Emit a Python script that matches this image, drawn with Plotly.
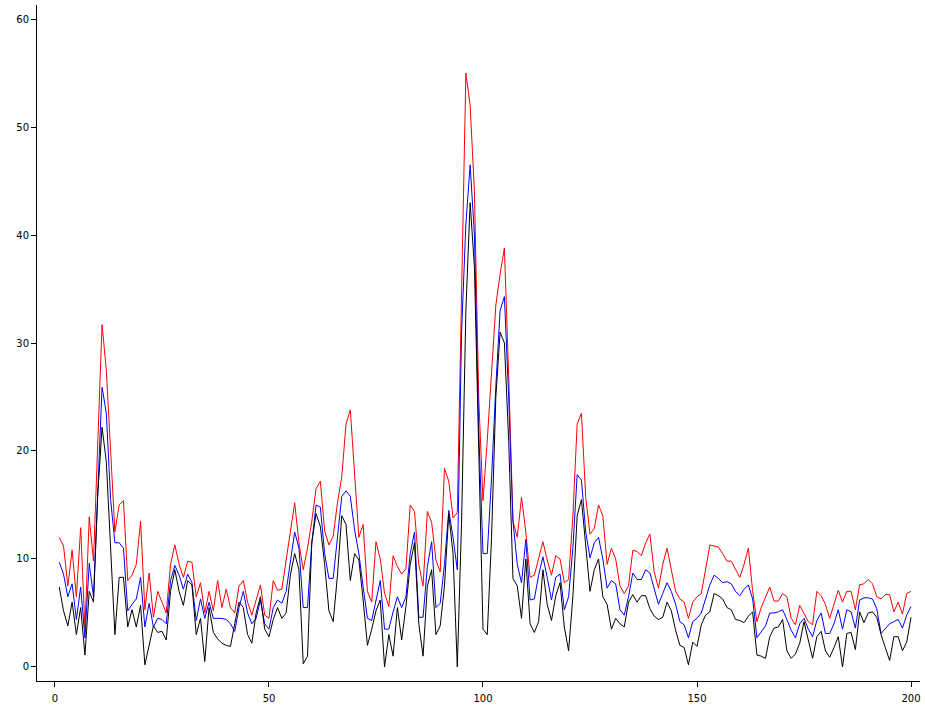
import plotly.graph_objects as go

x_values = list(range(1, 201))

red_values = [
    12.0, 11.2, 7.5, 10.8, 6.5, 12.9, 3.6, 13.9, 9.8, 21.0,
    31.7, 27.5, 19.8, 12.5, 15.0, 15.4, 8.0, 8.5, 9.5, 13.5,
    5.3, 8.7, 4.6, 7.0, 6.0, 5.0, 9.5, 11.3, 9.5, 8.3,
    9.8, 9.7, 6.5, 7.8, 5.0, 7.0, 5.2, 8.0, 5.5, 7.2,
    5.5, 5.0, 7.5, 8.0, 6.0, 4.8, 6.2, 7.6, 4.8, 4.5,
    8.0, 7.1, 7.2, 9.8, 12.5, 15.2, 11.5, 9.0, 11.0, 13.5,
    16.5, 17.2, 12.6, 11.3, 12.1, 15.2, 17.6, 22.5, 23.8, 17.5,
    12.0, 13.2, 7.0, 6.0, 11.6, 10.0, 6.8, 5.6, 10.3, 9.3,
    8.6, 9.1, 15.0, 14.4, 9.5, 7.5, 14.4, 13.4, 9.9, 8.8,
    18.4, 17.2, 13.8, 14.3, 36.0, 55.0, 52.0, 44.0, 25.0, 15.4,
    21.0, 27.0, 33.5, 36.4, 38.8, 27.0, 13.5, 12.0, 15.7, 12.5,
    8.3, 8.5, 10.0, 11.6, 9.9, 8.5, 10.3, 10.0, 7.8, 8.1,
    14.0, 22.5, 23.5, 15.7, 12.3, 12.8, 15.0, 14.0, 9.5, 11.0,
    10.0, 7.5, 6.8, 7.5, 10.8, 10.7, 10.3, 11.5, 12.3, 8.8,
    7.3, 9.5, 11.0, 9.0, 7.0, 6.3, 6.0, 4.5, 6.0, 6.5,
    6.8, 9.0, 11.3, 11.2, 11.1, 10.5, 9.8, 9.8, 9.0, 8.3,
    9.5, 11.0, 7.0, 4.2, 5.5, 6.5, 7.4, 6.1, 6.1, 6.8,
    6.5, 4.5, 3.9, 5.7, 5.0, 4.2, 3.9, 7.0, 6.6, 5.8,
    4.5, 5.8, 7.1, 6.0, 7.0, 7.0, 5.3, 7.6, 7.7, 8.1,
    7.7, 6.5, 6.3, 6.7, 6.7, 5.1, 6.0, 4.9, 6.8, 7.0,
]

blue_values = [
    9.7, 8.6, 6.5, 7.7, 4.4, 7.4, 2.7, 9.6, 6.5, 17.0,
    25.9, 23.5, 15.5, 11.5, 11.5, 11.0, 5.2, 5.8, 6.3, 8.3,
    3.7, 5.9, 3.7, 4.5, 4.4, 4.0, 8.0, 9.4, 8.5, 7.2,
    8.6, 7.8, 4.3, 6.3, 4.5, 6.0, 4.5, 4.5, 4.5, 4.4,
    4.0, 3.3, 5.5, 7.0, 5.0, 4.0, 4.5, 6.2, 4.0, 3.5,
    5.5, 6.2, 5.9, 7.0, 10.0, 12.5, 11.0, 5.5, 5.5, 11.5,
    15.0, 14.8, 10.5, 8.2, 8.2, 11.8, 15.8, 16.3, 15.8, 12.7,
    10.5, 7.4, 4.5, 4.3, 6.0, 8.0, 3.5, 3.5, 5.1, 6.5,
    5.5, 6.5, 10.5, 12.5, 4.6, 4.6, 9.3, 11.6, 5.5, 5.9,
    9.5, 14.5, 12.0, 9.0, 31.0, 41.0, 46.5, 40.0, 22.0, 10.5,
    10.5, 17.5, 26.0, 33.0, 34.3, 25.0, 13.5, 9.5, 7.8, 11.8,
    6.2, 6.3, 8.5, 10.2, 8.3, 6.2, 8.3, 8.6, 5.3, 6.5,
    11.0, 17.8, 17.3, 12.5, 10.1, 11.5, 12.0, 10.0, 7.3, 8.0,
    7.7, 5.3, 4.8, 6.5, 8.7, 8.1, 8.1, 9.0, 8.7, 7.2,
    5.8, 6.8, 7.8, 7.0, 5.8, 4.2, 3.9, 2.7, 4.2, 4.5,
    5.0, 6.3, 7.6, 8.5, 8.2, 7.8, 7.9, 7.7, 7.0, 6.6,
    7.2, 7.6, 6.3, 2.7, 3.3, 3.8, 5.0, 5.0, 5.1, 5.3,
    4.4, 3.4, 2.7, 4.0, 4.5, 3.5, 2.8, 4.3, 5.0, 3.1,
    3.1, 4.0, 5.3, 3.5, 5.3, 5.1, 3.6, 6.2, 6.4, 6.4,
    6.3, 5.4, 3.1, 3.6, 4.0, 4.2, 4.4, 3.6, 4.8, 5.6,
]

black_values = [
    7.4, 5.2, 3.8, 6.0, 3.0, 5.5, 1.1, 7.0, 6.0, 16.0,
    22.2, 19.0, 11.0, 3.0, 8.3, 8.3, 3.7, 5.3, 3.7, 5.7,
    0.2, 2.0, 3.8, 3.2, 3.3, 2.5, 7.0, 9.0, 7.0, 5.7,
    8.0, 7.6, 3.0, 4.5, 0.5, 5.5, 3.2, 2.6, 2.2, 2.0,
    1.9, 4.0, 6.0, 5.5, 3.0, 2.2, 5.0, 6.5, 3.5, 2.8,
    4.4, 5.5, 4.5, 5.0, 8.5, 10.5, 9.0, 0.3, 1.0, 11.5,
    14.2, 13.0, 9.5, 5.2, 4.2, 8.5, 14.0, 13.2, 8.0, 10.5,
    9.9, 6.2, 2.0, 3.5, 5.2, 6.2, 0.0, 3.0, 1.0, 5.5,
    2.5, 5.6, 9.5, 11.5, 4.0, 1.0, 7.5, 9.0, 3.0, 3.8,
    7.5, 14.2, 10.5, 0.0, 13.5, 33.0, 43.0, 37.0, 20.0, 3.5,
    3.0, 12.0, 25.0, 31.0, 30.0, 21.0, 8.2, 7.5, 4.5, 10.0,
    4.0, 3.2, 4.2, 9.0, 5.8, 4.3, 6.6, 7.8, 3.7, 1.5,
    6.5, 14.0, 15.5, 11.0, 7.0, 9.0, 10.0, 6.5, 5.8, 3.5,
    4.5, 4.0, 3.7, 6.0, 6.7, 6.0, 6.6, 6.6, 5.4, 4.7,
    4.4, 4.6, 6.0, 5.2, 3.4, 2.0, 1.8, 0.2, 2.3, 1.9,
    3.9, 4.8, 5.1, 6.8, 6.6, 6.3, 5.5, 5.3, 4.4, 4.3,
    4.1, 4.7, 5.1, 1.1, 1.0, 0.8, 2.8, 3.6, 3.7, 4.4,
    1.5, 0.8, 1.2, 2.2, 4.2, 2.5, 0.8, 2.8, 3.3, 1.5,
    0.9, 1.8, 2.8, 0.0, 3.1, 3.2, 1.6, 5.1, 4.1, 5.0,
    5.1, 4.6, 3.0, 1.8, 0.6, 2.8, 2.8, 1.5, 2.3, 4.6,
]

x_ticks = [0, 50, 100, 150, 200]
y_ticks = [0, 10, 20, 30, 40, 50, 60]

X_RANGE = [-4.2, 202.1]
Y_RANGE = [-1.3, 61.3]

fig = go.Figure()
for vals, col in [(red_values, "#ff0000"), (blue_values, "#0000ff"), (black_values, "#000000")]:
    fig.add_trace(go.Scatter(x=x_values, y=vals, mode="lines",
                             line=dict(color=col, width=1), showlegend=False,
                             hoverinfo="skip"))

font = dict(family="DejaVu Sans", size=10, color="#000000")
common = dict(showgrid=False, zeroline=False, tickfont=font, tickcolor="#000000",
              tickwidth=1, ticklen=5, automargin=False)

fig.update_layout(
    width=925, height=705,
    margin=dict(l=37, r=5, t=5, b=24, pad=0),
    paper_bgcolor="#ffffff", plot_bgcolor="#ffffff",
    showlegend=False,
    xaxis=dict(range=X_RANGE, tickvals=x_ticks, ticks="outside", showline=True,
               linecolor="#000000", linewidth=1, ticklabelstandoff=3, **common),
    yaxis=dict(range=Y_RANGE, tickvals=y_ticks, ticks="outside", showline=True,
               linecolor="#000000", linewidth=1, **common),
    xaxis2=dict(range=X_RANGE, tickvals=x_ticks, ticks="inside", overlaying="x",
                showticklabels=False, showline=False, side="bottom", **common),
    yaxis2=dict(range=Y_RANGE, tickvals=y_ticks, ticks="inside", overlaying="y",
                showticklabels=False, showline=False, side="left", **common),
)

fig.write_html(
    "out.html",
    config={"displayModeBar": False, "staticPlot": True},
    post_script="document.body.style.margin='0px';document.body.style.overflow='hidden';",
)
